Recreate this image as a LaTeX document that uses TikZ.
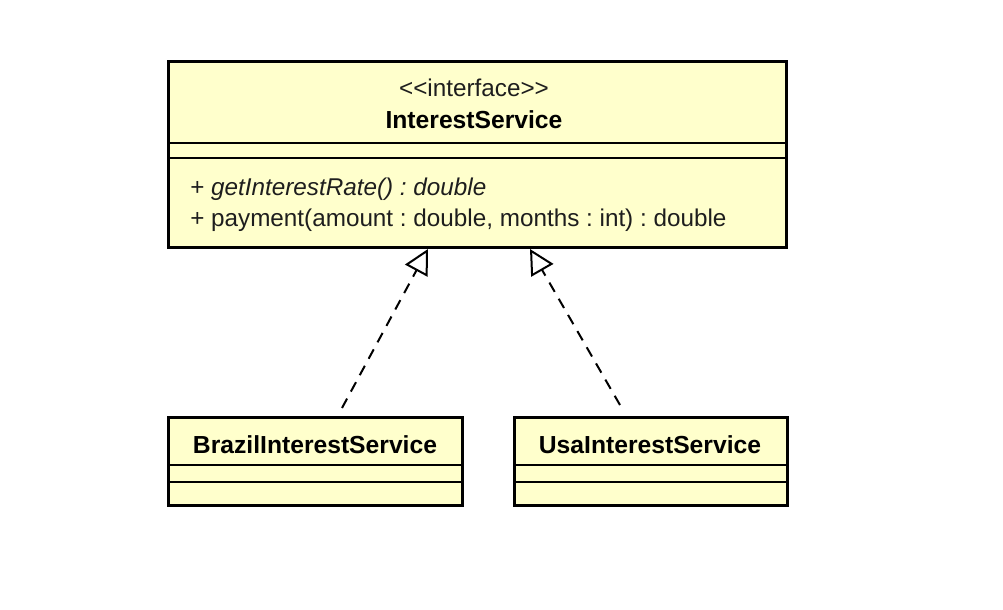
\documentclass[tikz,border=0pt]{standalone}
\usepackage{fontspec}
\setmainfont{Liberation Sans}
\usetikzlibrary{arrows.meta}
\definecolor{umlfill}{RGB}{255,255,204}
\definecolor{umltext}{RGB}{30,30,30}
\frenchspacing
\begin{document}
\begin{tikzpicture}[x=0.75pt,y=-0.75pt,
  box/.style={draw=black, fill=umlfill, line width=2.25pt, rectangle, inner sep=0pt, outer sep=0pt},
  sepline/.style={draw=black, line width=1.1pt},
  txt/.style={font=\fontsize{18.2}{21}\selectfont\frenchspacing, text=umltext, inner sep=0pt, anchor=base},
  bold/.style={font=\fontsize{18.5}{21}\selectfont\bfseries, inner sep=0pt, anchor=base},
  realize/.style={draw=black, line width=1.5pt, dash pattern=on 8pt off 6pt,
    -{Triangle[open, length=18.5pt, width=19pt, line width=1.5pt]}}]
\useasboundingbox[fill=white] (0,0) rectangle (1003,610);
% interface box
\node[box, minimum width=463.5pt, minimum height=138.75pt] (iface) at (477,154.5) {};
\draw[sepline] (168,143) -- (786,143);
\draw[sepline] (168,158) -- (786,158);
\node[txt] (stereo) at (474,97) {{<}{<}interface{>}{>}};
\node[bold] (ifname) at (474,128) {InterestService};
\node[txt, anchor=base west] (m1) at (190,195) {+ \textit{getInterestRate() : double}};
\node[txt, anchor=base west] (m2) at (190,226) {+ payment(amount : double, months : int) : double};
% Brazil
\node[box, minimum width=220.5pt, minimum height=66pt] (brazil) at (315,461) {};
\draw[sepline] (168,465) -- (462,465);
\draw[sepline] (168,482) -- (462,482);
\node[bold] (bzname) at (315,453) {BrazilInterestService};
% Usa
\node[box, minimum width=204.75pt, minimum height=66pt] (usa) at (650.5,461) {};
\draw[sepline] (514,465) -- (787,465);
\draw[sepline] (514,482) -- (787,482);
\node[bold] (usname) at (650,453) {UsaInterestService};
% realizations
\coordinate (bzstart) at (342,408);
\coordinate (bztip) at (428,249);
\coordinate (usstart) at (620,405);
\coordinate (ustip) at (530,249);
\draw[realize] (bzstart) -- (bztip);
\draw[realize] (usstart) -- (ustip);
\end{tikzpicture}
\end{document}
